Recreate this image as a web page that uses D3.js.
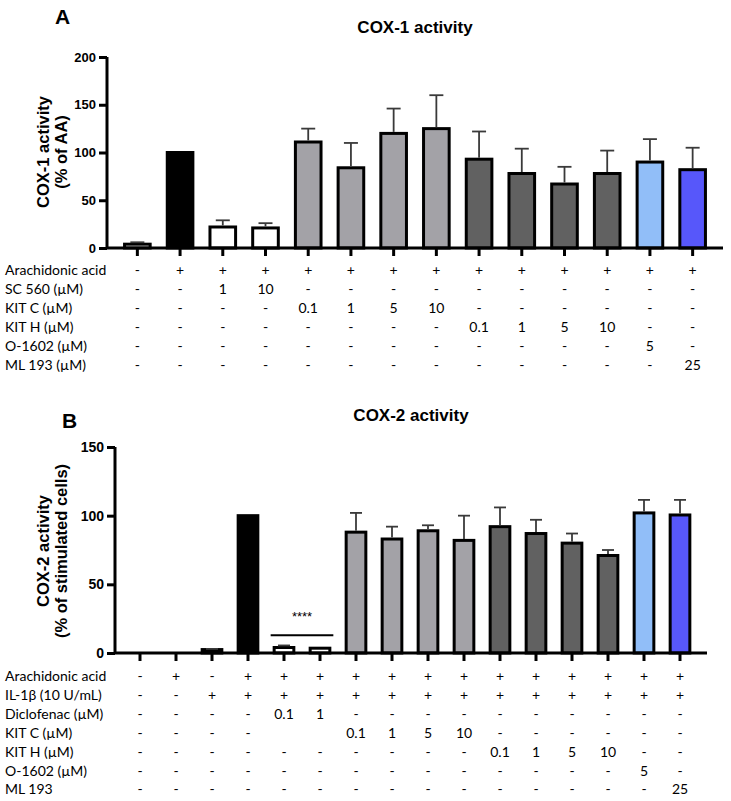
<!DOCTYPE html>
<html>
<head>
<meta charset="utf-8">
<script src="https://cdn.jsdelivr.net/npm/d3@7"></script>
<style>
  body { margin: 0; background: #fff; }
  svg { display: block; }
</style>
</head>
<body>
<svg id="chart" width="731" height="801"></svg>
<script>
// ---- data: panel A (COX-1) ----
const cox1Mean = [4, 100, 22, 21, 111, 84, 120, 125, 93, 78, 67, 78, 90, 82];
const cox1Err = [2, 0, 7, 5, 14, 26, 26, 35, 29, 26, 18, 24, 24, 23];
const cox1Fill = ['w', 'k', 'w', 'w', 'lg', 'lg', 'lg', 'lg', 'dg', 'dg', 'dg', 'dg', 'lb', 'b'];
const cox1Ticks = [0, 50, 100, 150, 200];

const tableLabelsA = ['Arachidonic acid', 'SC 560 (\u00b5M)', 'KIT C (\u00b5M)', 'KIT H (\u00b5M)', 'O-1602 (\u00b5M)', 'ML 193 (\u00b5M)'];
const tableRowsA = [
  ['-', '+', '+', '+', '+', '+', '+', '+', '+', '+', '+', '+', '+', '+'],
  ['-', '-', '1', '10', '-', '-', '-', '-', '-', '-', '-', '-', '-', '-'],
  ['-', '-', '-', '-', '0.1', '1', '5', '10', '-', '-', '-', '-', '-', '-'],
  ['-', '-', '-', '-', '-', '-', '-', '-', '0.1', '1', '5', '10', '-', '-'],
  ['-', '-', '-', '-', '-', '-', '-', '-', '-', '-', '-', '-', '5', '-'],
  ['-', '-', '-', '-', '-', '-', '-', '-', '-', '-', '-', '-', '-', '25']
];

// ---- data: panel B (COX-2) ----
const cox2Mean = [0, 0, 2.5, 100, 4, 3.5, 88, 83, 89, 82, 92, 87, 80, 71, 102, 100.5];
const cox2Err = [0, 0, 0.5, 0, 1.5, 0, 14, 9, 4, 18, 14, 10, 7, 4, 9.5, 11];
const cox2Fill = ['w', 'w', 'k', 'k', 'w', 'w', 'lg', 'lg', 'lg', 'lg', 'dg', 'dg', 'dg', 'dg', 'lb', 'b'];
const cox2Ticks = [0, 50, 100, 150];

const tableLabelsB = ['Arachidonic acid', 'IL-1\u03b2 (10 U/mL)', 'Diclofenac (\u00b5M)', 'KIT C (\u00b5M)', 'KIT H (\u00b5M)', 'O-1602 (\u00b5M)', 'ML 193'];
const tableRowsB = [
  ['-', '+', '-', '+', '+', '+', '+', '+', '+', '+', '+', '+', '+', '+', '+', '+'],
  ['-', '-', '+', '+', '+', '+', '+', '+', '+', '+', '+', '+', '+', '+', '+', '+'],
  ['-', '-', '-', '-', '0.1', '1', '-', '-', '-', '-', '-', '-', '-', '-', '-', '-'],
  ['-', '-', '-', '-', '', '', '0.1', '1', '5', '10', '-', '-', '-', '-', '-', '-'],
  ['-', '-', '-', '-', '-', '-', '-', '-', '-', '-', '0.1', '1', '5', '10', '-', '-'],
  ['-', '-', '-', '-', '-', '-', '-', '-', '-', '-', '-', '-', '-', '-', '5', '-'],
  ['-', '-', '-', '-', '-', '-', '-', '-', '-', '-', '-', '-', '-', '-', '-', '25']
];

const colors = {
  w: '#ffffff',
  k: '#000000',
  lg: '#a3a2a7',
  dg: '#616161',
  lb: '#91bef8',
  b: '#5757fa'
};

const svg = d3.select('#chart');
const boldFont = '"Liberation Sans", Arial, sans-serif';
const tableFont = 'Lato, "Open Sans", sans-serif';

function drawPanel(cfg) {
  const g = svg.append('g');
  const n = cfg.mean.length;

  const x = d3.scaleBand()
    .domain(d3.range(n))
    .range(cfg.xRange)
    .paddingInner(cfg.pad)
    .paddingOuter(cfg.pad / 2);

  const y = d3.scaleLinear()
    .domain([0, cfg.yMax])
    .range(cfg.yRange);

  // bars
  const bw = x.bandwidth();
  g.selectAll('rect.bar')
    .data(cfg.mean)
    .enter()
    .append('rect')
    .attr('class', 'bar')
    .attr('x', (d, i) => x(i) + 1.5)
    .attr('y', d => y(d))
    .attr('width', bw - 3)
    .attr('height', d => y(0) - y(d))
    .attr('fill', (d, i) => colors[cfg.fill[i]])
    .attr('stroke', '#000')
    .attr('stroke-width', 3);

  // error bars (upper only)
  const errs = cfg.mean.map((m, i) => ({ i, m, e: cfg.err[i] })).filter(d => d.e > 0);
  g.selectAll('line.err')
    .data(errs)
    .enter()
    .append('line')
    .attr('x1', d => x(d.i) + bw / 2)
    .attr('x2', d => x(d.i) + bw / 2)
    .attr('y1', d => y(d.m) - 1.5)
    .attr('y2', d => y(d.m + d.e))
    .attr('stroke', '#3a3a3a')
    .attr('stroke-width', 1.8);
  g.selectAll('line.cap')
    .data(errs)
    .enter()
    .append('line')
    .attr('x1', d => x(d.i) + bw / 2 - cfg.cap)
    .attr('x2', d => x(d.i) + bw / 2 + cfg.cap)
    .attr('y1', d => y(d.m + d.e))
    .attr('y2', d => y(d.m + d.e))
    .attr('stroke', '#3a3a3a')
    .attr('stroke-width', 1.8);

  // y axis
  const yAxis = g.append('g')
    .attr('transform', `translate(${cfg.axisX},0)`)
    .call(d3.axisLeft(y).tickValues(cfg.ticks).tickSize(8).tickPadding(3));
  yAxis.select('.domain')
    .attr('stroke-width', 3)
    .attr('d', `M0,${y(cfg.yMax)}V${y(0)}`);
  yAxis.selectAll('.tick line').attr('stroke-width', 3);
  yAxis.selectAll('.tick text')
    .attr('font-family', boldFont)
    .attr('font-weight', 'bold')
    .attr('font-size', cfg.tickFont)
    .attr('fill', '#000');

  // x axis
  const xAxis = g.append('g')
    .attr('transform', `translate(0,${y(0)})`)
    .call(d3.axisBottom(x).tickFormat('').tickSize(8).tickSizeOuter(0));
  xAxis.select('.domain')
    .attr('stroke-width', 3)
    .attr('d', `M${cfg.axisX},0H${cfg.axisEnd}`);
  xAxis.selectAll('.tick line').attr('stroke-width', 3);

  // axis title (two lines, rotated)
  cfg.yLabel.forEach((t, k) => {
    g.append('text')
      .attr('transform', `translate(${cfg.yLabelX[k]},${cfg.yLabelY}) rotate(-90)`)
      .attr('text-anchor', 'middle')
      .attr('font-family', boldFont)
      .attr('font-weight', 'bold')
      .attr('font-size', '16.5px')
      .text(t);
  });

  // chart title and panel letter
  g.append('text')
    .attr('x', cfg.titleX)
    .attr('y', cfg.titleY)
    .attr('text-anchor', 'middle')
    .attr('font-family', boldFont)
    .attr('font-weight', 'bold')
    .attr('font-size', '17px')
    .text(cfg.title);
  g.append('text')
    .attr('x', cfg.letterX)
    .attr('y', cfg.letterY)
    .attr('font-family', boldFont)
    .attr('font-weight', 'bold')
    .attr('font-size', '21px')
    .text(cfg.letter);

  // treatment table under the chart, one column per bar
  cfg.tableLabels.forEach((lab, r) => {
    const ry = cfg.tableY + r * cfg.rowStep;
    g.append('text')
      .attr('x', 5)
      .attr('y', ry)
      .attr('font-family', tableFont)
      .attr('font-size', '14px')
      .text(lab);
    g.selectAll(null)
      .data(cfg.tableRows[r])
      .enter()
      .append('text')
      .attr('x', (d, i) => x(i) + bw / 2)
      .attr('y', ry)
      .attr('text-anchor', 'middle')
      .attr('font-family', tableFont)
      .attr('font-size', '14px')
      .text(d => d);
  });

  return { g, x, y };
}

drawPanel({
  mean: cox1Mean, err: cox1Err, fill: cox1Fill, ticks: cox1Ticks,
  yMax: 200, yRange: [248, 57], xRange: [116, 714], pad: 0.33,
  axisX: 107, axisEnd: 723, cap: 7, tickFont: '13px',
  yLabel: ['COX-1 activity', '(% of AA)'], yLabelX: [49, 67], yLabelY: 152,
  title: 'COX-1 activity', titleX: 415, titleY: 33,
  letter: 'A', letterX: 55, letterY: 24,
  tableLabels: tableLabelsA, tableRows: tableRowsA,
  tableY: 275, rowStep: 19
});

const panelB = drawPanel({
  mean: cox2Mean, err: cox2Err, fill: cox2Fill, ticks: cox2Ticks,
  yMax: 150, yRange: [653, 447], xRange: [122, 698], pad: 0.37,
  axisX: 115, axisEnd: 707, cap: 6, tickFont: '14px',
  yLabel: ['COX-2 activity', '(% of stimulated cells)'], yLabelX: [49, 67], yLabelY: 551,
  title: 'COX-2 activity', titleX: 411, titleY: 421,
  letter: 'B', letterX: 62, letterY: 428,
  tableLabels: tableLabelsB, tableRows: tableRowsB,
  tableY: 681, rowStep: 18.9
});

// significance marker over the diclofenac bars
const xb = panelB.x, yb = panelB.y;
const bwb = xb.bandwidth();
panelB.g.append('line')
  .attr('x1', xb(4) - 2)
  .attr('x2', xb(5) + bwb + 2)
  .attr('y1', yb(13))
  .attr('y2', yb(13))
  .attr('stroke', '#000')
  .attr('stroke-width', 2);
panelB.g.append('text')
  .attr('x', (xb(4) + xb(5) + bwb) / 2)
  .attr('y', yb(23))
  .attr('text-anchor', 'middle')
  .attr('font-family', boldFont)
  .attr('font-size', '13px')
  .text('****');
</script>
</body>
</html>
